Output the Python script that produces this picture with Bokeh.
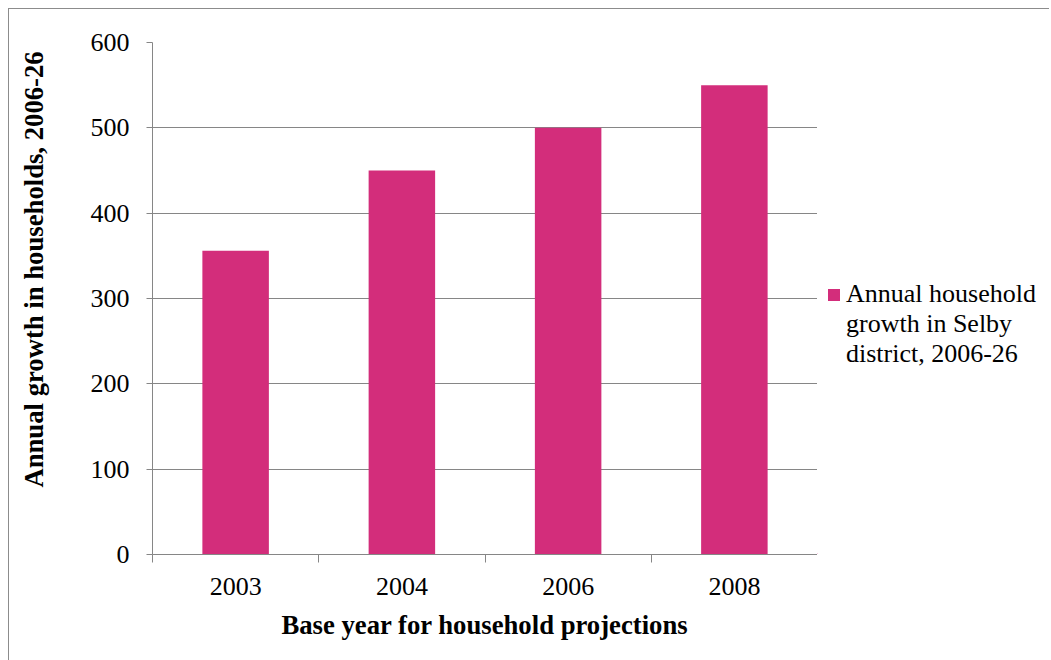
from bokeh.plotting import figure
from bokeh.layouts import row
from bokeh.models import Range1d, FixedTicker, Legend, LegendItem, ColumnDataSource, Label
from bokeh.embed import file_html
from bokeh.resources import INLINE

years = ["2003", "2004", "2006", "2008"]
growth = [356, 450, 500, 550]
series_name = "Annual household growth in Selby district, 2006-26"
legend_lines = ["Annual household", "growth in Selby", "district, 2006-26"]
y_ticks = [0, 100, 200, 300, 400, 500, 600]
x_title = "Base year for household projections"
y_title = "Annual growth in households, 2006-26"

BAR = "#D32D7B"
GRAY = "#868686"
BORDER = "1px solid #8c8c8c"
FONT = "Liberation Serif"

xpos = [i + 0.5 for i in range(len(years))]
src = ColumnDataSource(dict(x=xpos, top=growth, year=years))

# ---- left strip carrying the y-axis title ----
lf = figure(width=60, height=652, output_backend="svg", toolbar_location=None,
            x_range=Range1d(0, 60), y_range=Range1d(0, 600),
            x_axis_location=None, y_axis_location=None,
            min_border_left=0, min_border_right=0, min_border_top=0, min_border_bottom=0)
lf.styles = {"margin-left": "8px", "margin-top": "8px", "border-left": BORDER, "border-top": BORDER}
lf.outline_line_color = None
lf.xgrid.visible = False
lf.ygrid.visible = False
lf.border_fill_color = "white"
lf.add_layout(Label(x=24, y=333.5, text=y_title, angle=90, angle_units="deg",
                    text_align="center", text_baseline="middle",
                    text_font=FONT, text_font_size="26.7px", text_font_style="bold",
                    text_color="black"))

# ---- main chart ----
p = figure(frame_width=665, frame_height=511, output_backend="svg", toolbar_location=None,
           x_range=Range1d(0, len(years)), y_range=Range1d(0, 600),
           min_border_left=84, min_border_right=0, min_border_top=33, min_border_bottom=108)
p.styles = {"margin-top": "8px", "border-top": BORDER}
p.outline_line_color = None
p.background_fill_color = "white"
p.border_fill_color = "white"

p.vbar(x="x", top="top", width=0.4, source=src, fill_color=BAR, line_color=None)

xa = p.xaxis[0]
xa.ticker = FixedTicker(ticks=xpos, minor_ticks=list(range(len(years) + 1)))
xa.major_label_overrides = {x: y for x, y in zip(xpos, years)}
xa.major_tick_out = 0
xa.major_tick_in = 0
xa.minor_tick_out = 8
xa.minor_tick_in = 0
xa.minor_tick_line_color = GRAY
xa.axis_line_color = GRAY
xa.major_label_standoff = 15
xa.major_label_text_font = FONT
xa.major_label_text_font_size = "26px"
xa.major_label_text_color = "black"
xa.axis_label = x_title
xa.axis_label_text_font = FONT
xa.axis_label_text_font_size = "26.7px"
xa.axis_label_text_font_style = "bold"
xa.axis_label_text_color = "black"
xa.axis_label_standoff = 12

ya = p.yaxis[0]
ya.ticker = FixedTicker(ticks=y_ticks)
ya.major_tick_out = 6
ya.major_tick_in = 0
ya.minor_tick_out = 0
ya.minor_tick_in = 0
ya.major_tick_line_color = GRAY
ya.axis_line_color = GRAY
ya.major_label_standoff = 17
ya.major_label_text_font = FONT
ya.major_label_text_font_size = "26px"
ya.major_label_text_color = "black"

p.xgrid.grid_line_color = None
p.ygrid.grid_line_color = GRAY
p.ygrid.ticker = FixedTicker(ticks=y_ticks)

# ---- legend strip (its ranges keep the series' bars out of view; only the legend shows) ----
q = figure(width=232, height=652, output_backend="svg", toolbar_location=None,
           x_range=Range1d(10000, 10001), y_range=Range1d(10000, 10001),
           x_axis_location=None, y_axis_location=None,
           min_border_left=0, min_border_right=0, min_border_top=0, min_border_bottom=0)
q.styles = {"margin-top": "8px", "border-top": BORDER}
q.outline_line_color = None
q.xgrid.visible = False
q.ygrid.visible = False
q.background_fill_color = "white"
q.border_fill_color = "white"

k0 = q.vbar(x="x", top="top", width=0.4, source=src, fill_color=BAR, line_color=None)
k1 = q.vbar(x="x", top="top", width=0.4, source=src, fill_alpha=0, line_alpha=0)
k2 = q.vbar(x="x", top="top", width=0.4, source=src, fill_alpha=0, line_alpha=0)

legend = Legend(items=[LegendItem(label=legend_lines[0], renderers=[k0]),
                       LegendItem(label=legend_lines[1], renderers=[k1]),
                       LegendItem(label=legend_lines[2], renderers=[k2])],
                location=(9, 184))
legend.border_line_color = None
legend.background_fill_alpha = 0
legend.margin = 0
legend.padding = 0
legend.spacing = 0
legend.glyph_width = 15
legend.glyph_height = 15
legend.label_height = 29
legend.label_standoff = 5
legend.label_text_font = FONT
legend.label_text_font_size = "26px"
legend.label_text_color = "black"
legend.label_text_baseline = "middle"
q.add_layout(legend)

layout = row(lf, p, q)
open("out.html", "w").write(file_html(layout, INLINE))
